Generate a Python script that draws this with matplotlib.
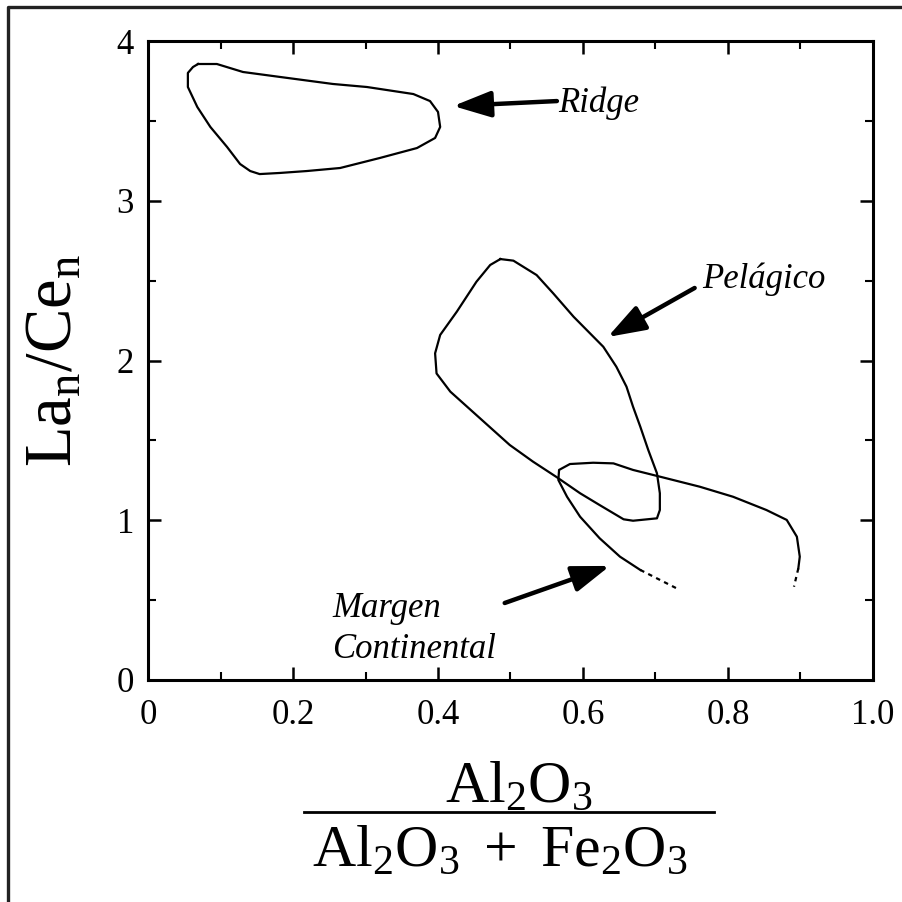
import matplotlib
matplotlib.use("Agg")
import matplotlib.pyplot as plt
from matplotlib.lines import Line2D

plt.rcParams["font.family"] = ["Liberation Serif", "DejaVu Serif"]
plt.rcParams["mathtext.fontset"] = "custom"
plt.rcParams["mathtext.rm"] = "Liberation Serif"
plt.rcParams["mathtext.it"] = "Liberation Serif:italic"

# Ridge field (closed loop)
ridge_x = [0.069, 0.095, 0.131, 0.182, 0.255, 0.302, 0.366, 0.389, 0.400, 0.403,
           0.396, 0.371, 0.320, 0.265, 0.219, 0.182, 0.154, 0.141, 0.127, 0.109,
           0.086, 0.068, 0.055, 0.055, 0.062, 0.069]
ridge_y = [3.856, 3.856, 3.806, 3.775, 3.731, 3.712, 3.668, 3.624, 3.556, 3.462,
           3.393, 3.330, 3.268, 3.205, 3.186, 3.174, 3.167, 3.186, 3.230, 3.337,
           3.462, 3.587, 3.712, 3.800, 3.837, 3.856]

# Pelagic field (closed loop)
pel_x = [0.486, 0.504, 0.536, 0.559, 0.587, 0.628, 0.646, 0.660, 0.669, 0.679,
         0.690, 0.702, 0.706, 0.706, 0.702, 0.669, 0.656, 0.623, 0.596, 0.564,
         0.531, 0.499, 0.458, 0.417, 0.398, 0.396, 0.403, 0.426, 0.453, 0.472, 0.486]
pel_y = [2.635, 2.625, 2.535, 2.420, 2.274, 2.086, 1.961, 1.836, 1.711, 1.586,
         1.440, 1.294, 1.169, 1.064, 1.012, 0.997, 1.006, 1.095, 1.169, 1.269,
         1.367, 1.471, 1.638, 1.805, 1.919, 2.045, 2.160, 2.306, 2.493, 2.598, 2.635]

# Continental margin field (open curve, dashed ends)
margen_x = [0.679, 0.651, 0.623, 0.596, 0.578, 0.566, 0.567, 0.582, 0.614, 0.642,
            0.669, 0.706, 0.761, 0.807, 0.853, 0.881, 0.895, 0.899, 0.897]
margen_y = [0.689, 0.772, 0.887, 1.022, 1.147, 1.252, 1.315, 1.352, 1.360, 1.356,
            1.315, 1.273, 1.210, 1.147, 1.064, 1.002, 0.897, 0.772, 0.699]
margen_dash_left_x = [0.679, 0.729]
margen_dash_left_y = [0.689, 0.574]
margen_dash_right_x = [0.897, 0.891]
margen_dash_right_y = [0.699, 0.584]

# field labels, text baseline position, arrow tail and tip
labels = ["Ridge", "Pelágico", "Margen\nContinental"]
label_pos = [(0.566, 3.556), (0.764, 2.454), (0.254, 0.394)]
arrow_tail = [(0.564, 3.624), (0.754, 2.454), (0.492, 0.482)]
arrow_tip = [(0.421, 3.593), (0.634, 2.147), (0.637, 0.714)]

xticks = [0, 0.2, 0.4, 0.6, 0.8, 1.0]
xticklabels = ["0", "0.2", "0.4", "0.6", "0.8", "1.0"]
yticks = [0, 1, 2, 3, 4]

W, H = 903, 902
fig = plt.figure(figsize=(W / 100, H / 100), dpi=100)
ax = fig.add_axes([148 / W, 1 - 680 / H, 725 / W, 639 / H])

line_kw = dict(color="black", lw=1.6)
ax.plot(ridge_x, ridge_y, **line_kw)
ax.plot(pel_x, pel_y, **line_kw)
ax.plot(margen_x, margen_y, **line_kw)
ax.plot(margen_dash_left_x, margen_dash_left_y, color="black", lw=1.6, ls=(0, (2, 2)))
ax.plot(margen_dash_right_x, margen_dash_right_y, color="black", lw=1.6, ls=(0, (2, 2)))

for tail, tip in zip(arrow_tail, arrow_tip):
    ax.annotate("", xy=tip, xytext=tail,
                arrowprops=dict(arrowstyle="-|>,head_length=2.3,head_width=0.8",
                                lw=3.2, color="black", mutation_scale=10,
                                shrinkA=0, shrinkB=0))

ax.text(label_pos[0][0], label_pos[0][1], labels[0], fontsize=25, style="italic", va="baseline")
ax.text(label_pos[1][0], label_pos[1][1], labels[1], fontsize=25, style="italic", va="baseline")
ax.text(label_pos[2][0], label_pos[2][1], "Margen", fontsize=25, style="italic", va="baseline")
ax.text(label_pos[2][0], label_pos[2][1] - 0.256, "Continental", fontsize=25, style="italic", va="baseline")

ax.set_xlim(0, 1)
ax.set_ylim(0, 4)
ax.set_xticks(xticks)
ax.set_xticklabels(xticklabels)
ax.set_xticks([0.1, 0.3, 0.5, 0.7, 0.9], minor=True)
ax.set_yticks(yticks)
ax.set_yticks([0.5, 1.5, 2.5, 3.5], minor=True)
ax.tick_params(which="both", direction="in", top=True, right=True, labelsize=25)
ax.tick_params(which="major", length=9.5, width=1.8)
ax.tick_params(which="minor", length=6, width=1.5)
ax.tick_params(axis="x", pad=14)
ax.tick_params(axis="y", pad=10)
for s in ax.spines.values():
    s.set_linewidth(2.2)

# axis titles
fig.text(55 / W, 1 - 360 / H, r"$\mathrm{La_n/Ce_n}$", rotation=90,
         ha="center", va="center", fontsize=48)
fig.text(519 / W, 1 - 802 / H, r"$\mathrm{Al_2O_3}$", ha="center", va="baseline", fontsize=43)
fig.text(500 / W, 1 - 866 / H, r"$\mathrm{Al_2O_3}\ +\ \mathrm{Fe_2O_3}$",
         ha="center", va="baseline", fontsize=43)
fig.add_artist(Line2D([304 / W, 714 / W], [1 - 812 / H, 1 - 812 / H],
                      transform=fig.transFigure, color="black", lw=2))

# outer frame (left and top edges)
fig.add_artist(Line2D([8 / W, 8 / W, 1], [0, 1 - 7 / H, 1 - 7 / H],
                      transform=fig.transFigure, color="#222222", lw=2.4))

fig.savefig("out.png", dpi=100)
